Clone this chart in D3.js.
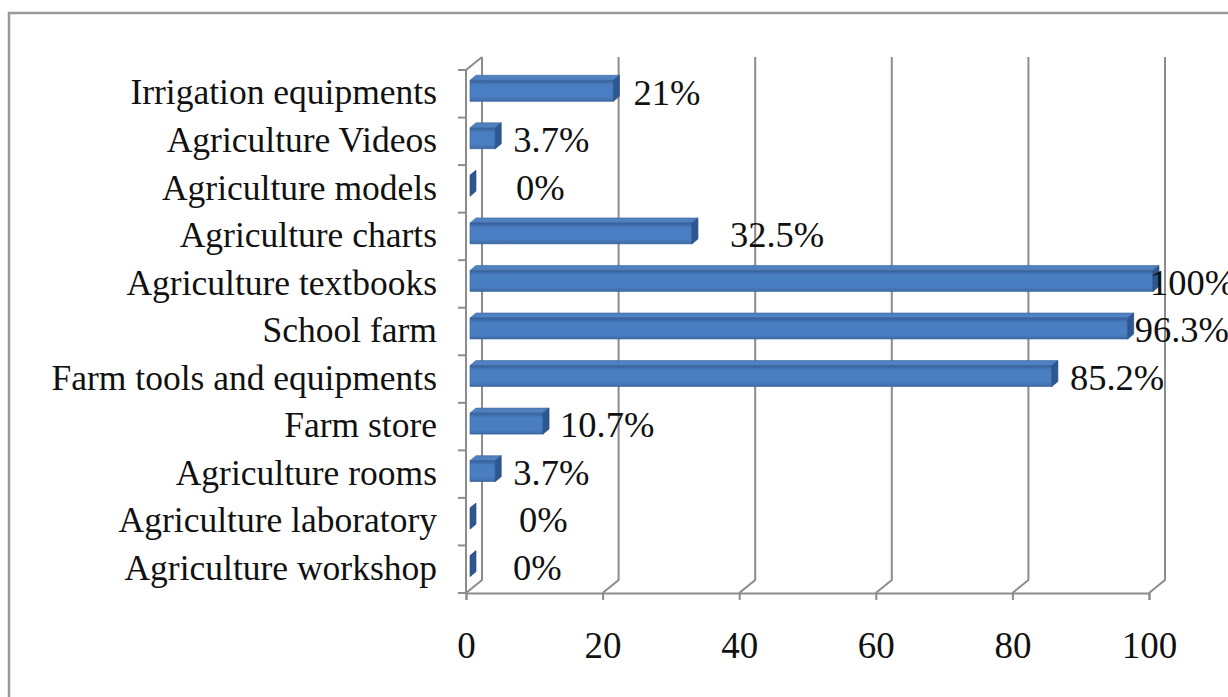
<!DOCTYPE html>
<html>
<head>
<meta charset="utf-8">
<script src="https://cdn.jsdelivr.net/npm/d3@7/dist/d3.min.js"></script>
<style>
  html, body { margin: 0; padding: 0; background: #fff; overflow: hidden; }
  svg { display: block; }
  svg text { font-family: "Liberation Serif", Tinos, "DejaVu Serif", serif !important; fill: #111; }
</style>
</head>
<body>
<svg id="chart" width="1228" height="697"></svg>
<script>
// Teaching resources available in schools (% of schools)
const categories = [
  "Irrigation equipments",
  "Agriculture Videos",
  "Agriculture models",
  "Agriculture charts",
  "Agriculture textbooks",
  "School farm",
  "Farm tools and equipments",
  "Farm store",
  "Agriculture rooms",
  "Agriculture laboratory",
  "Agriculture workshop"
];
const values = [21, 3.7, 0, 32.5, 100, 96.3, 85.2, 10.7, 3.7, 0, 0];
const valueLabels = ["21%", "3.7%", "0%", "32.5%", "100%", "96.3%", "85.2%", "10.7%", "3.7%", "0%", "0%"];
const xTicks = [0, 20, 40, 60, 80, 100];
const xTickLabels = ["0", "20", "40", "60", "80", "100"];

// Horizontal gap (px) between each bar's end and its data label
const labelGap = [14, 12, 40, 32, -9, 1, 12, 11, 12, 43, 37];

const svg = d3.select("#chart");

// Plot geometry: front floor edge, back wall offset, bar depth
const floorY = 593, topY = 70;
const wall = { dx: 16, dy: -13 };
const barFront = { dx: 4, dy: -3 };
const barDepth = { dx: 6, dy: -5 };
const barH = 21;
const catFont = 35.5, valFont = 36.5, tickFont = 37;
const fontStack = '"Liberation Serif", Tinos, "DejaVu Serif", serif';

const x = d3.scaleLinear().domain([0, 100]).range([466, 1149]);
const y = d3.scaleBand().domain(categories).range([topY, floorY]).padding(0);

// Outer chart-area frame
svg.append("rect")
  .attr("x", 9).attr("y", 13)
  .attr("width", 1240).attr("height", 700)
  .attr("fill", "none").attr("stroke", "#9a9a9a").attr("stroke-width", 2.5);

const lineColor = "#8c8c8c";

// Back-wall gridlines with floor diagonals
const grid = svg.append("g");
xTicks.forEach(v => {
  const fx = x(v);
  grid.append("polyline")
    .attr("points", [[fx, floorY], [fx + wall.dx, floorY + wall.dy], [fx + wall.dx, topY + wall.dy]].map(p => p.join(",")).join(" "))
    .attr("fill", "none").attr("stroke", lineColor).attr("stroke-width", 2);
});

// Left (category) axis line with its top edge into depth
grid.append("polyline")
  .attr("points", [[x(0), floorY], [x(0), topY], [x(0) + wall.dx, topY + wall.dy]].map(p => p.join(",")).join(" "))
  .attr("fill", "none").attr("stroke", lineColor).attr("stroke-width", 2);

// Category boundary ticks
const boundaries = categories.map(c => y(c)).concat([floorY]);
grid.selectAll("line.ytick").data(boundaries).enter().append("line")
  .attr("class", "ytick")
  .attr("x1", x(0) - 8).attr("x2", x(0))
  .attr("y1", d => d).attr("y2", d => d)
  .attr("stroke", lineColor).attr("stroke-width", 2);

// Bottom value axis
const xAxis = d3.axisBottom(x)
  .tickValues(xTicks)
  .tickFormat((d, i) => xTickLabels[i])
  .tickSize(7)
  .tickPadding(32);
const gx = svg.append("g").attr("transform", `translate(0,${floorY})`).call(xAxis)
  .attr("font-family", fontStack).attr("font-size", tickFont);
gx.select(".domain").attr("stroke", lineColor).attr("stroke-width", 2);
gx.selectAll(".tick line").attr("stroke", lineColor).attr("stroke-width", 2);
gx.selectAll(".tick text").attr("fill", "#111");

// Category labels
const yAxis = d3.axisLeft(y).tickSize(0).tickPadding(29);
const gy = svg.append("g").attr("transform", `translate(${x(0)},0)`).call(yAxis)
  .attr("font-family", fontStack).attr("font-size", catFont);
gy.select(".domain").remove();
gy.selectAll(".tick text")
  .attr("fill", "#111")
  .attr("dy", "0.3em");

// Bar fill gradient for front faces
const defs = svg.append("defs");
const grad = defs.append("linearGradient").attr("id", "barFrontGrad")
  .attr("x1", 0).attr("y1", 0).attr("x2", 0).attr("y2", 1);
grad.append("stop").attr("offset", "0%").attr("stop-color", "#345f98");
grad.append("stop").attr("offset", "22%").attr("stop-color", "#4a7ec2");
grad.append("stop").attr("offset", "78%").attr("stop-color", "#4a7ec2");
grad.append("stop").attr("offset", "100%").attr("stop-color", "#3d6aa6");

// 3D bars: front face, top face, right end face
const bars = svg.append("g").selectAll("g.bar")
  .data(categories.map((c, i) => ({ c, v: values[i], i })))
  .enter().append("g").attr("class", "bar");

bars.each(function(d) {
  const g = d3.select(this);
  const cy = y(d.c) + y.bandwidth() / 2 + barFront.dy;
  const x0 = x(0) + barFront.dx;
  const x1 = x(d.v) + barFront.dx;
  const yt = cy - barH / 2, yb = cy + barH / 2;
  const ddx = barDepth.dx, ddy = barDepth.dy;
  // top face
  g.append("polygon")
    .attr("points", [[x0, yt], [x1, yt], [x1 + ddx, yt + ddy], [x0 + ddx, yt + ddy]].map(p => p.join(",")).join(" "))
    .attr("fill", "#4f80c0").attr("stroke", "#3d679e").attr("stroke-width", 0.6);
  // front face
  if (x1 > x0) {
    g.append("rect")
      .attr("x", x0).attr("y", yt)
      .attr("width", x1 - x0).attr("height", barH)
      .attr("fill", "url(#barFrontGrad)").attr("stroke", "#3a659c").attr("stroke-width", 0.6);
  }
  // right end face
  g.append("polygon")
    .attr("points", [[x1, yt], [x1 + ddx, yt + ddy], [x1 + ddx, yb + ddy], [x1, yb]].map(p => p.join(",")).join(" "))
    .attr("fill", "#2d5791").attr("stroke", "#264b7e").attr("stroke-width", 0.6);
});

// Data labels
svg.append("g")
  .attr("font-family", fontStack).attr("font-size", valFont)
  .selectAll("text.vlabel")
  .data(categories.map((c, i) => ({ c, v: values[i], i })))
  .enter().append("text")
  .attr("class", "vlabel")
  .attr("x", d => x(d.v) + barFront.dx + barDepth.dx + labelGap[d.i])
  .attr("y", d => y(d.c) + y.bandwidth() / 2 - 2)
  .attr("dy", "0.35em")
  .text(d => valueLabels[d.i]);
</script>
</body>
</html>
